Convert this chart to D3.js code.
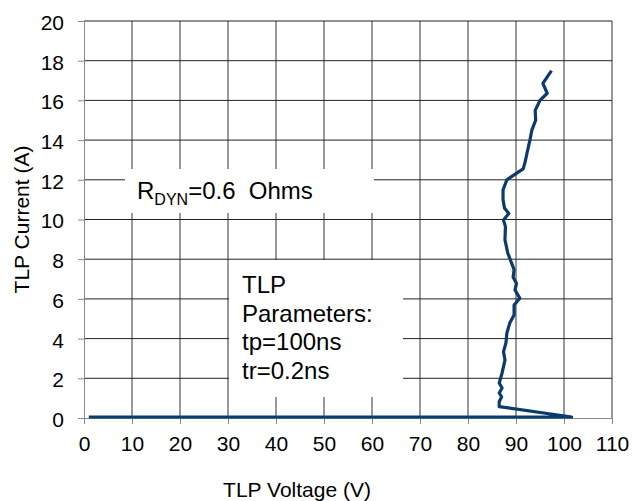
<!DOCTYPE html>
<html>
<head>
<meta charset="utf-8">
<script src="https://cdn.jsdelivr.net/npm/d3@7"></script>
<style>
  body { margin: 0; background: #fff; }
  svg { display: block; font-family: "Liberation Sans", Arial, sans-serif; }
</style>
</head>
<body>
<svg id="chart"></svg>
<script>
const voltage = [1, 101.6, 86.5, 86.5, 87.0, 86.5, 87.1, 86.5, 87.1, 87.7, 87.4, 87.9, 88.1, 88.7,
  89.6, 89.6, 90.8, 89.8, 90.1, 89.4, 89.6, 89.4, 88.3, 87.7, 87.8, 87.4, 88.5, 87.6, 87.3, 87.3,
  88.1, 89.3, 91.5, 91.9, 92.3, 92.9, 93.3, 94.1, 94.0, 95.0, 96.5, 95.6, 97.4];
const current = [0.05, 0.05, 0.57, 0.82, 1.07, 1.26, 1.51, 1.76, 2.27, 2.92, 3.34, 3.78, 4.28, 4.78,
  5.19, 5.69, 6.03, 6.45, 6.78, 7.1, 7.46, 7.6, 8.3, 8.97, 9.64, 9.97, 10.3, 10.58, 11.0, 11.5,
  12.0, 12.2, 12.55, 12.9, 13.35, 14.0, 14.5, 15.0, 15.5, 16.0, 16.36, 16.86, 17.5];

const xTicks = d3.range(0, 111, 10);
const yTicks = d3.range(0, 21, 2);

const rdynLabel = { main: 'R', sub: 'DYN', rest: '=0.6  Ohms' };
const tlpLines = ['TLP', 'Parameters:', 'tp=100ns', 'tr=0.2ns'];

const width = 632, height = 501;
const margin = { top: 21, right: 20, bottom: 83, left: 84 };

const svg = d3.select('#chart').attr('width', width).attr('height', height);

const x = d3.scaleLinear().domain([0, 110]).range([margin.left, width - margin.right]);
const y = d3.scaleLinear().domain([0, 20]).range([height - margin.bottom, margin.top]);

// grid
svg.append('g').selectAll('line.v')
  .data(xTicks.slice(1))
  .enter().append('line')
  .attr('x1', d => x(d)).attr('x2', d => x(d))
  .attr('y1', y(0)).attr('y2', y(20))
  .attr('stroke', '#333').attr('stroke-width', 1);

svg.append('g').selectAll('line.h')
  .data(yTicks.slice(1))
  .enter().append('line')
  .attr('x1', x(0)).attr('x2', x(110))
  .attr('y1', d => y(d)).attr('y2', d => y(d))
  .attr('stroke', '#222').attr('stroke-width', 1);

// axes
const xAxis = d3.axisBottom(x).tickValues(xTicks).tickSize(6).tickPadding(12).tickSizeOuter(0);
const yAxis = d3.axisLeft(y).tickValues(yTicks).tickSize(6).tickPadding(14).tickSizeOuter(0);

const gx = svg.append('g').attr('transform', `translate(0,${y(0)})`).call(xAxis);
const gy = svg.append('g').attr('transform', `translate(${x(0)},0)`).call(yAxis);

[gx, gy].forEach(g => {
  g.select('.domain').attr('stroke', '#888');
  g.selectAll('.tick line').attr('stroke', '#888');
  g.selectAll('.tick text').attr('fill', '#000').style('font-size', '21px')
    .style('font-family', '"Liberation Sans", Arial, sans-serif');
});
gy.selectAll('.tick text').attr('dy', '0.4em');

// annotation boxes (white, cover the grid)
svg.append('rect').attr('x', 125).attr('y', 169).attr('width', 249).attr('height', 44).attr('fill', '#fff');
svg.append('rect').attr('x', 229).attr('y', 260).attr('width', 174).attr('height', 137).attr('fill', '#fff');

const rt = svg.append('text').attr('x', 137).attr('y', 199).style('font-size', '24px');
rt.append('tspan').text(rdynLabel.main);
rt.append('tspan').attr('dy', 6).style('font-size', '16px').text(rdynLabel.sub);
rt.append('tspan').attr('dy', -6).text(rdynLabel.rest).attr('xml:space', 'preserve');
rt.style('white-space', 'pre');

svg.append('g').selectAll('text')
  .data(tlpLines)
  .enter().append('text')
  .attr('x', 242)
  .attr('y', (d, i) => 293 + i * 28.7)
  .style('font-size', '24px')
  .text(d => d);

// curve
const pts = voltage.map((v, i) => [v, current[i]]);
const line = d3.line().x(d => x(d[0])).y(d => y(d[1]));
svg.append('path')
  .datum(pts)
  .attr('d', line)
  .attr('fill', 'none')
  .attr('stroke', '#0b3b6b')
  .attr('stroke-width', 3.2)
  .attr('stroke-linejoin', 'round');

// axis titles
svg.append('text')
  .attr('x', 297).attr('y', 497)
  .attr('text-anchor', 'middle')
  .style('font-size', '21px')
  .text('TLP Voltage (V)');

svg.append('text')
  .attr('transform', `translate(29,${(y(0) + y(20)) / 2}) rotate(-90)`)
  .attr('text-anchor', 'middle')
  .style('font-size', '21px')
  .text('TLP Current (A)');
</script>
</body>
</html>
